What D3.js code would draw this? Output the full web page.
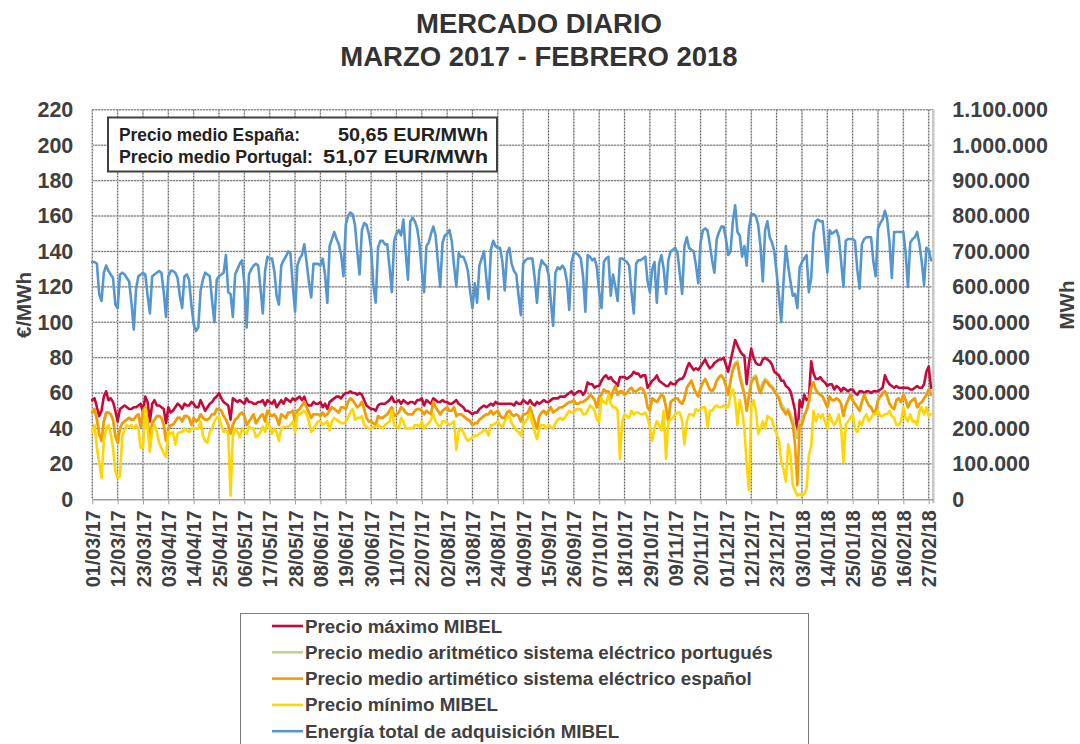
<!DOCTYPE html>
<html><head><meta charset="utf-8">
<script src="https://cdn.jsdelivr.net/npm/d3@7"></script>
<style>
body{margin:0;background:#fff}
svg{display:block}
text{font-family:"Liberation Sans",Arial,sans-serif;font-weight:bold}
</style>
</head><body><svg id="c" width="1080" height="744"></svg>
<script>
// ---------------- DATA ----------------
const firstDay = "01/03/17";
const lastDayExclusive = "01/03/18";
const tickLabels = ["01/03/17","12/03/17","23/03/17","03/04/17","14/04/17","25/04/17","06/05/17","17/05/17","28/05/17","08/06/17","19/06/17","30/06/17","11/07/17","22/07/17","02/08/17","13/08/17","24/08/17","04/09/17","15/09/17","26/09/17","07/10/17","18/10/17","29/10/17","09/11/17","20/11/17","01/12/17","12/12/17","23/12/17","03/01/18","14/01/18","25/01/18","05/02/18","16/02/18","27/02/18"];
const leftTicks = [0,20,40,60,80,100,120,140,160,180,200,220];
const rightTicks = [0,100000,200000,300000,400000,500000,600000,700000,800000,900000,1000000,1100000];
const titleLines = ["MERCADO DIARIO","MARZO 2017 - FEBRERO 2018"];
const summaryLabels = ["Precio medio España:","Precio medio Portugal:"];
const summaryValues = ["50,65 EUR/MWh","51,07 EUR/MWh"];
const seriesNames = ["Precio máximo MIBEL","Precio medio aritmético sistema eléctrico portugués","Precio medio artimético sistema eléctrico español","Precio mínimo MIBEL","Energía total de adquisición MIBEL"];

// €/MWh
const precioMaximo = [
56,57,52,47,50,58,61,56,57,55, 50,44,51,52,53,52,51,51,52,52,
53,54,49,58,55,44,54,56,53,53, 52,51,43,52,49,50,52,54,53,51,
54,53,53,55,54,52,52,56,53,50, 52,54,55,57,58,60,57,55,54,53,
45,57,56,55,56,55,54,57,55,55, 54,54,55,55,56,53,56,55,54,56,
52,54,56,54,57,56,55,57,56,57, 58,56,58,54,53,53,55,54,54,55,
52,54,51,55,56,57,58,58,57,59, 60,60,61,60,60,59,60,59,56,53,
52,51,51,50,53,54,54,54,55,56, 58,55,55,56,54,56,55,54,55,55,
54,56,56,57,53,56,55,54,57,56, 55,55,56,55,55,54,54,55,56,54,
53,52,50,50,49,48,49,49,51,52, 53,52,53,54,53,55,54,54,54,54,
54,54,54,53,55,54,54,56,55,54, 56,54,53,55,54,55,56,55,55,56,
57,57,57,58,58,58,59,60,61,59, 60,61,61,59,61,66,65,65,63,64,
64,67,69,70,68,69,67,66,64,69, 69,69,68,69,70,72,71,71,69,70,
70,63,65,67,68,70,67,66,65,64, 64,66,65,65,67,68,68,70,74,77,
75,73,74,73,75,77,79,76,74,75, 77,78,79,79,80,76,72,78,84,90,
87,84,82,81,65,77,85,80,77,76, 76,79,80,79,78,76,72,71,70,67,
67,64,63,61,56,50,35,56,52,59, 56,57,78,71,68,68,69,67,66,64,
65,65,62,64,63,61,63,62,61,62, 62,60,59,61,61,60,61,61,60,61,
61,61,62,63,70,67,65,64,63,64, 63,63,63,63,63,62,62,63,64,63,
63,65,72,75,63];

const precioMedioPT = [
49,51,45,37,33,44,49,49,48,45, 36,32,40,43,44,45,46,45,45,47,
48,41,50,52,44,33,43,45,47,47, 46,42,33,40,42,42,44,46,46,44,
47,47,46,42,46,44,45,48,46,45, 45,46,48,48,51,51,50,47,45,42,
37,42,45,46,48,49,47,42,44,46, 48,43,45,47,48,44,50,48,47,48,
46,42,48,47,46,49,49,50,44,50, 51,53,55,52,49,46,48,48,48,47,
49,47,48,50,52,51,50,49,52,52, 51,55,57,56,54,52,53,55,51,46,
44,44,43,42,47,46,46,47,48,50, 52,47,48,49,52,51,49,48,48,48,
50,51,51,50,48,50,49,48,55,52, 50,48,50,51,52,50,50,52,47,48,
48,47,46,45,44,42,43,43,45,46, 47,48,48,50,48,49,50,47,46,46,
49,50,48,47,48,47,44,48,48,49, 52,48,44,40,47,49,50,48,50,52,
49,50,51,52,52,53,54,55,55,56, 54,54,55,55,56,57,59,58,56,52,
58,59,62,61,61,57,61,64,59,61, 61,59,60,62,63,61,61,62,63,62,
59,52,50,57,56,55,57,59,58,52, 44,55,56,57,57,55,54,57,63,65,
67,63,60,58,63,66,68,65,62,61, 63,67,69,70,68,64,59,67,74,77,
78,71,66,61,52,59,67,69,70,65, 62,66,68,67,65,64,62,60,58,54,
52,50,51,48,45,40,35,44,45,48, 51,55,63,66,62,60,59,58,55,52,
58,56,56,57,56,54,47,53,56,59, 56,54,52,50,55,59,56,53,52,49,
50,56,58,60,61,58,54,52,51,56, 57,55,59,56,52,55,56,57,52,54,
55,57,59,62,59];

const precioMedioES = [
49,51,45,37,33,44,49,49,48,45, 36,32,40,43,44,45,46,45,45,47,
48,41,50,52,44,33,43,45,47,47, 46,42,33,40,42,42,44,46,46,44,
47,47,46,42,46,44,45,48,46,45, 45,46,48,48,51,51,50,47,45,42,
37,42,45,46,48,49,47,42,44,46, 48,43,45,47,48,44,50,48,47,48,
46,42,48,47,46,49,49,50,44,50, 51,53,55,52,49,46,48,48,48,47,
49,47,48,50,52,51,50,49,52,52, 51,55,57,56,54,52,53,55,51,46,
44,44,43,42,47,46,46,47,48,50, 52,47,48,49,52,51,49,48,48,48,
50,51,51,50,48,50,49,48,55,52, 50,48,50,51,52,50,50,52,47,48,
48,47,46,45,44,42,43,43,45,46, 47,48,48,50,48,49,50,47,46,46,
49,50,48,47,48,47,44,48,48,49, 52,48,44,40,47,49,50,48,50,52,
49,50,51,52,52,53,54,55,55,56, 54,54,55,55,56,57,59,58,56,52,
58,59,62,61,61,57,61,64,59,61, 61,59,60,62,63,61,61,62,63,62,
59,52,50,57,56,55,57,59,58,52, 44,55,56,57,57,55,54,57,63,65,
67,63,60,58,63,66,68,65,62,61, 63,67,69,70,68,64,59,67,73,76,
77,69,64,59,50,58,66,68,69,63, 60,64,67,66,64,63,61,59,57,52,
50,48,50,46,42,31,8,42,42,47, 50,55,63,66,62,60,59,58,55,52,
58,56,56,57,56,54,47,53,56,59, 56,54,52,50,55,59,56,53,52,49,
50,56,58,60,61,58,54,52,51,56, 57,55,59,56,52,55,56,57,52,54,
55,57,59,62,59];

const precioMinimo = [
38,42,29,21,12,33,40,42,37,29, 16,12,13,36,39,42,41,42,40,42,
40,29,29,51,40,27,39,42,38,32, 29,26,24,38,37,38,31,37,38,38,
40,39,38,40,40,40,40,44,36,33, 32,38,40,44,46,47,42,38,39,37,
2,36,40,38,35,40,38,37,41,40, 40,35,36,38,41,38,44,41,37,40,
38,33,40,41,41,41,42,44,38,48, 48,49,50,48,44,38,40,42,44,44,
42,43,44,39,44,46,45,44,43,43, 44,46,49,51,45,46,46,47,42,41,
40,40,41,41,42,41,40,42,43,44, 50,42,41,40,46,44,40,40,40,40,
42,42,41,44,40,42,43,45,48,44, 42,41,44,44,43,42,43,44,28,39,
40,38,35,33,34,35,36,36,37,38, 39,39,36,42,42,43,44,42,41,44,
46,47,43,41,39,38,36,42,44,46, 49,43,38,34,40,42,42,40,42,41,
40,43,45,46,45,46,48,50,49,49, 51,51,51,48,48,50,53,52,50,45,
44,57,55,54,59,54,52,52,50,23, 44,48,47,46,50,48,49,49,48,48,
49,46,41,33,40,44,42,39,50,23, 44,45,46,48,49,49,44,31,44,48,
48,47,51,50,51,52,52,41,50,50, 52,53,52,52,53,52,52,59,62,56,
42,56,50,40,20,5,52,56,50,37, 40,44,40,47,46,45,40,37,33,21,
17,10,31,25,8,5,2,3,2,3, 6,25,30,50,44,48,46,48,44,40,
48,44,42,44,48,40,21,42,44,46, 48,40,38,44,42,46,48,44,46,48,
48,50,47,47,48,48,50,47,46,42, 42,44,52,46,44,48,44,44,42,50,
52,48,52,47,48];

// MWh
const energiaTotal = [
670000,670000,665000,580000,560000,640000,660000,645000,635000,625000,
550000,540000,635000,640000,635000,625000,615000,555000,480000,595000,
630000,635000,640000,635000,575000,525000,630000,635000,640000,645000,
640000,585000,515000,630000,645000,645000,640000,625000,575000,540000,
630000,635000,620000,550000,495000,475000,485000,590000,620000,640000,
635000,630000,560000,500000,620000,630000,635000,640000,690000,585000,
580000,515000,635000,650000,665000,675000,610000,485000,635000,650000,
660000,665000,660000,595000,525000,645000,685000,680000,680000,645000,
575000,550000,660000,675000,685000,700000,695000,605000,530000,660000,
680000,690000,720000,670000,615000,570000,665000,665000,665000,660000,
680000,635000,555000,715000,735000,755000,735000,720000,690000,630000,
775000,800000,810000,805000,775000,700000,635000,760000,780000,775000,
750000,710000,605000,555000,710000,730000,730000,720000,720000,655000,
585000,730000,750000,760000,745000,790000,700000,620000,785000,795000,
785000,765000,720000,645000,585000,715000,725000,750000,770000,745000,
670000,600000,725000,745000,750000,760000,730000,660000,600000,695000,
685000,685000,670000,645000,585000,540000,610000,555000,660000,680000,
700000,625000,565000,705000,730000,715000,710000,710000,670000,590000,
695000,710000,665000,645000,635000,575000,520000,665000,675000,680000,
680000,680000,625000,555000,645000,675000,665000,660000,635000,560000,
490000,640000,655000,650000,660000,650000,615000,535000,670000,695000,
695000,690000,680000,630000,530000,690000,685000,675000,680000,655000,
585000,540000,670000,680000,685000,575000,635000,600000,560000,680000,
680000,675000,670000,660000,585000,525000,665000,675000,675000,680000,
685000,615000,585000,650000,670000,555000,665000,690000,650000,580000,
675000,700000,705000,710000,695000,635000,580000,715000,740000,710000,
705000,700000,660000,610000,725000,760000,765000,760000,720000,675000,
640000,735000,755000,770000,770000,735000,690000,700000,785000,830000,
755000,745000,685000,715000,660000,765000,805000,805000,800000,775000,
715000,615000,760000,785000,740000,725000,700000,640000,575000,500000,
615000,715000,660000,615000,575000,580000,540000,655000,670000,680000,
690000,585000,625000,750000,785000,790000,785000,785000,715000,640000,
760000,750000,755000,760000,740000,670000,600000,730000,735000,735000,
735000,730000,650000,595000,720000,735000,740000,740000,740000,670000,
630000,765000,780000,790000,815000,790000,725000,625000,755000,755000,
755000,755000,755000,695000,600000,725000,735000,740000,755000,720000,
670000,605000,710000,705000,675000];

// ---------------- CHART ----------------
const W = 1080, H = 744;
const svg = d3.select("#c");
svg.append("rect").attr("width", W).attr("height", H).attr("fill", "#fff");

const parse = d3.utcParse("%d/%m/%y");
const days = d3.utcDay.range(parse(firstDay), parse(lastDayExclusive));
const tickDates = tickLabels.map(parse);

const plot = {left: 92.3, right: 933.3, top: 109.8, bottom: 499.3};
const x = d3.scaleUtc().domain([parse(firstDay), parse(lastDayExclusive)]).range([plot.left, plot.right]);
const yL = d3.scaleLinear().domain([0, 220]).range([plot.bottom, plot.top]);
const yR = d3.scaleLinear().domain([0, 1100000]).range([plot.bottom, plot.top]);

const esLocale = d3.formatLocale({decimal: ",", thousands: ".", grouping: [3], currency: ["", " €"]});
const fmtR = esLocale.format(",d");

const axisColor = "#404040";
const gridColor = "#5e5e5e";

// grid
const grid = svg.append("g");
grid.selectAll("line.h").data(leftTicks.filter(d => d > 0)).join("line")
  .attr("x1", plot.left).attr("x2", plot.right)
  .attr("y1", d => yL(d)).attr("y2", d => yL(d))
  .attr("stroke", "#d0d0d0").attr("stroke-width", 1.6);
grid.selectAll("line.h2").data(leftTicks.filter(d => d > 0)).join("line")
  .attr("x1", plot.left).attr("x2", plot.right)
  .attr("y1", d => yL(d)).attr("y2", d => yL(d))
  .attr("stroke", gridColor).attr("stroke-width", 1).attr("stroke-dasharray", "1.5,1.5");
grid.selectAll("line.v").data(tickDates).join("line")
  .attr("x1", d => x(d)).attr("x2", d => x(d))
  .attr("y1", plot.top).attr("y2", plot.bottom)
  .attr("stroke", "#d0d0d0").attr("stroke-width", 1.6);
grid.selectAll("line.v2").data(tickDates).join("line")
  .attr("x1", d => x(d)).attr("x2", d => x(d))
  .attr("y1", plot.top).attr("y2", plot.bottom)
  .attr("stroke", gridColor).attr("stroke-width", 1).attr("stroke-dasharray", "1.5,1.5");

// right border
svg.append("line").attr("x1", plot.right).attr("x2", plot.right)
  .attr("y1", plot.top).attr("y2", plot.bottom + 4)
  .attr("stroke", "#c8c8c8").attr("stroke-width", 2.5);

// bottom axis
const xAxis = d3.axisBottom(x).tickValues(tickDates).tickFormat((d, i) => tickLabels[i]).tickSize(5).tickSizeOuter(0);
const gx = svg.append("g").attr("transform", `translate(0,${plot.bottom})`).call(xAxis);
gx.select(".domain").attr("stroke", "#a0a0a0").attr("stroke-width", 1.5);
gx.selectAll(".tick line").attr("stroke", "#a0a0a0");
gx.selectAll(".tick text")
  .attr("fill", axisColor).attr("font-size", 19.8)
  .attr("text-anchor", "end")
  .attr("transform", "rotate(-90)")
  .attr("x", -11).attr("y", 0).attr("dy", "0.36em");

// left axis
const yAxisL = d3.axisLeft(yL).tickValues(leftTicks).tickSize(0).tickPadding(19);
const gyl = svg.append("g").attr("transform", `translate(${plot.left},0)`).call(yAxisL);
gyl.select(".domain").remove();
gyl.selectAll(".tick text").attr("fill", axisColor).attr("font-size", 21.5);

// right axis
const yAxisR = d3.axisRight(yR).tickValues(rightTicks).tickFormat(fmtR).tickSize(0).tickPadding(19);
const gyr = svg.append("g").attr("transform", `translate(${plot.right},0)`).call(yAxisR);
gyr.select(".domain").remove();
gyr.selectAll(".tick text").attr("fill", axisColor).attr("font-size", 21.5);

// axis titles
svg.append("text").attr("transform", "translate(31,305) rotate(-90)")
  .attr("text-anchor", "middle").attr("fill", axisColor).attr("font-size", 20.5).text("€/MWh");
svg.append("text").attr("transform", "translate(1074,305) rotate(-90)")
  .attr("text-anchor", "middle").attr("fill", axisColor).attr("font-size", 20.5).text("MWh");

// title
svg.selectAll("text.title").data(titleLines).join("text")
  .attr("x", 539).attr("y", (d, i) => 33 + i * 33)
  .attr("text-anchor", "middle").attr("fill", "#333").attr("font-size", 27.5).text(d => d);

// series
const colors = ["#C5093B", "#BFD48F", "#F59B00", "#FFD600", "#5596CF"];
const dataSets = [precioMaximo, precioMedioPT, precioMedioES, precioMinimo];
const lineL = d3.line().x((d, i) => x(days[i])).y(d => yL(d));
const lineR = d3.line().x((d, i) => x(days[i])).y(d => yR(d));
const gLines = svg.append("g").attr("fill", "none").attr("stroke-linejoin", "round").attr("stroke-linecap", "round");
dataSets.forEach((arr, k) => {
  gLines.append("path").datum(arr).attr("d", lineL).attr("stroke", colors[k]).attr("stroke-width", 2.6);
});
gLines.append("path").datum(energiaTotal).attr("d", lineR).attr("stroke", colors[4]).attr("stroke-width", 2.6);

// summary box
const labelSpans = [[119, 181], [119, 194]];
const valueSpans = [[338, 150], [323, 165]];
const box = svg.append("g");
box.append("rect").attr("x", 108).attr("y", 117.5).attr("width", 389).attr("height", 54)
  .attr("fill", "#fff").attr("stroke", "#404040").attr("stroke-width", 2);
box.selectAll("text.lab").data(summaryLabels).join("text")
  .attr("x", (d, i) => labelSpans[i][0]).attr("y", (d, i) => 141 + i * 22)
  .attr("textLength", (d, i) => labelSpans[i][1]).attr("lengthAdjust", "spacingAndGlyphs")
  .attr("fill", "#222").attr("font-size", 17.5).text(d => d);
box.selectAll("text.val").data(summaryValues).join("text")
  .attr("x", (d, i) => valueSpans[i][0]).attr("y", (d, i) => 141 + i * 22)
  .attr("textLength", (d, i) => valueSpans[i][1]).attr("lengthAdjust", "spacingAndGlyphs")
  .attr("fill", "#222").attr("font-size", 17.5).text(d => d);

// legend
const lg = svg.append("g");
lg.append("rect").attr("x", 240.5).attr("y", 613.5).attr("width", 568).attr("height", 160)
  .attr("fill", "#fff").attr("stroke", "#7a7a7a").attr("stroke-width", 1);
const items = lg.selectAll("g.item").data(seriesNames).join("g")
  .attr("transform", (d, i) => `translate(0,${626 + i * 26.3})`);
items.append("line").attr("x1", 272).attr("x2", 303).attr("y1", 0).attr("y2", 0)
  .attr("stroke", (d, i) => colors[i]).attr("stroke-width", 2.6);
items.append("text").attr("x", 305).attr("y", 0).attr("dy", "0.35em")
  .attr("fill", axisColor).attr("font-size", 18.8).text(d => d);
</script>
</body></html>
